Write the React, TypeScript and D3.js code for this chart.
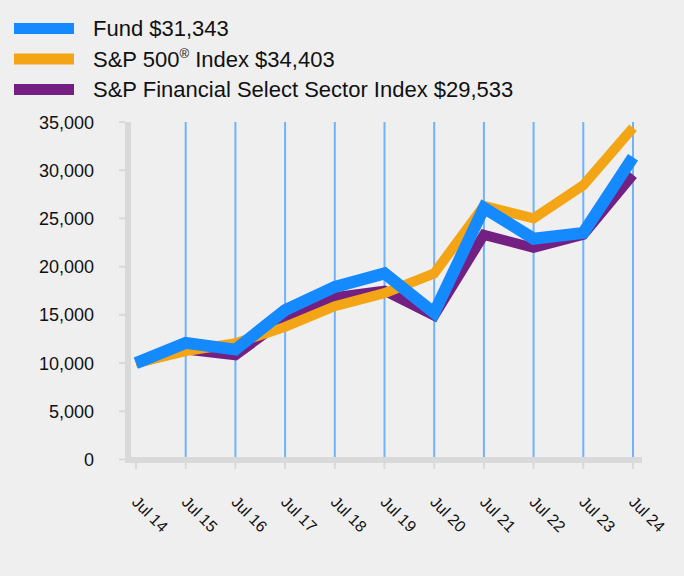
import React from "react";
import * as d3 from "d3";

const categories = ["Jul 14", "Jul 15", "Jul 16", "Jul 17", "Jul 18", "Jul 19", "Jul 20", "Jul 21", "Jul 22", "Jul 23", "Jul 24"];
const fund = [10000, 12100, 11400, 15500, 17900, 19300, 15200, 26100, 22900, 23500, 31343];
const sp500 = [10000, 11250, 12050, 13750, 15900, 17250, 19300, 26300, 25000, 28450, 34403];
const financial = [10000, 11400, 10800, 14600, 16850, 17500, 14900, 23300, 21950, 23300, 29533];
const yTicks = [0, 5000, 10000, 15000, 20000, 25000, 30000, 35000];

const legendItems = [
  { label: "Fund $31,343", color: "#1589fe", sup: false },
  { label: "S&P 500", sup: true, rest: " Index $34,403", color: "#f4a516" },
  { label: "S&P Financial Select Sector Index $29,533", color: "#741f82", sup: false },
];

const W = 684;
const H = 576;
const FONT = "Liberation Sans, Arial, sans-serif";

export default function App() {
  const x = d3.scalePoint<string>().domain(categories).range([136, 633]);
  const y = d3.scaleLinear().domain([0, 35000]).range([459.5, 122]);
  const line = d3
    .line<number>()
    .x((_, i) => x(categories[i]) as number)
    .y((d) => y(d));

  return (
    <div style={{ position: "absolute", left: 0, top: 0 }}>
      <svg width={W} height={H} style={{ display: "block" }}>
        <rect x={0} y={0} width={W} height={H} fill="#efefef" />
        {/* legend */}
        {legendItems.map((it, i) => (
          <g key={i} transform={`translate(0, ${28.5 + i * 30.5})`}>
            <rect x={14} y={-5.5} width={60} height={11} fill={it.color} />
            <text x={93} y={7.5} fontFamily={FONT} fontSize={22} fill="#111">
              {it.label}
              {it.sup ? (
                <tspan fontSize={13} dy={-9}>®</tspan>
              ) : null}
              {it.sup ? <tspan dy={9}>{it.rest}</tspan> : null}
            </text>
          </g>
        ))}
        {/* gridlines */}
        {categories.slice(1).map((c) => (
          <line key={c} x1={x(c)} x2={x(c)} y1={122} y2={457} stroke="#70b3fb" strokeWidth={2} />
        ))}
        {/* y axis */}
        <rect x={125} y={122} width={6} height={341} fill="#d9d9d9" />
        {yTicks.map((t) => (
          <g key={t}>
            <line x1={119} x2={125} y1={y(t)} y2={y(t)} stroke="#d9d9d9" strokeWidth={2} />
            <text x={94} y={y(t) + 6.5} textAnchor="end" fontFamily={FONT} fontSize={18} fill="#111">
              {d3.format(",")(t)}
            </text>
          </g>
        ))}
        {/* x axis */}
        <rect x={125} y={457} width={517} height={6} fill="#d9d9d9" />
        {categories.map((c) => (
          <g key={c}>
            <line x1={x(c)} x2={x(c)} y1={463} y2={469} stroke="#d9d9d9" strokeWidth={2} />
            <text
              transform={`translate(${(x(c) as number) - 5}, ${503}) rotate(45)`}
              fontFamily={FONT}
              fontSize={16}
              fill="#111"
            >
              {c}
            </text>
          </g>
        ))}
        {/* lines */}
        <path d={line(financial) || ""} fill="none" stroke="#741f82" strokeWidth={10} strokeLinejoin="miter" />
        <path d={line(sp500) || ""} fill="none" stroke="#f4a516" strokeWidth={10} strokeLinejoin="miter" />
        <path d={line(fund) || ""} fill="none" stroke="#1589fe" strokeWidth={12} strokeLinejoin="miter" />
      </svg>
    </div>
  );
}
